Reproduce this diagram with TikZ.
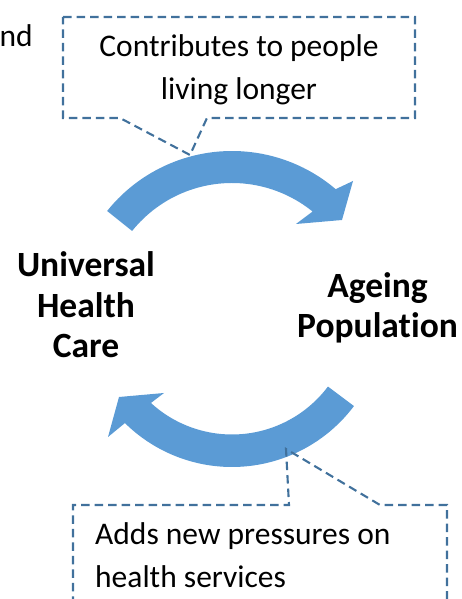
\documentclass[tikz,border=0pt]{standalone}
\usepackage{fontspec}
\setmainfont{Carlito}[Ligatures = NoCommon]
\usepackage{tikz}
\usetikzlibrary{calc}

\definecolor{arrowblue}{RGB}{91,155,213}
\definecolor{calloutline}{RGB}{65,113,156}

\tikzset{
  callout/.style = {draw = calloutline, line width = 2.1pt, dash pattern = on 8.5pt off 5pt},
  calltext/.style = {font = \fontsize{31.5}{43}\selectfont, inner sep = 0pt},
  bigbold/.style = {font = \fontsize{35.5}{40.5}\selectfont\bfseries, inner sep = 0pt, align = center}
}

\begin{document}
\begin{tikzpicture}[x = 1pt, y = 1pt]
\useasboundingbox (0, 0) rectangle (461, 599);
%\draw[very thin, color = gray](0, 0) grid[step = 50] (461, 599);
\coordinate (hubtop) at (232, 288);
\coordinate (hubbot) at (232, 284.5);

% upper arrow
\fill [arrowblue] ($(hubtop) + (141.3:160)$) arc[start angle = 141.3, end angle = 49.6, radius = 160]
  -- (353, 418) -- (342, 379) -- (296, 375)
  -- ($(hubtop) + (51:128)$) arc[start angle = 51, end angle = 141.3, radius = 128] -- cycle;

% lower arrow
\fill [arrowblue] ($(hubbot) + (-36.9:152.5)$) arc[start angle = -36.9, end angle = -134.6, radius = 152.5]
  -- (108, 162) -- (119, 202) -- (164, 206)
  -- ($(hubbot) + (-132.5:120)$) arc[start angle = -132.5, end angle = -36.9, radius = 120] -- cycle;

% callouts
\draw [callout] (63, 582) -- (415, 582) -- (415, 481) -- (207, 481) -- (190, 444)
  -- (120, 481) -- (63, 481) -- cycle;
\draw [callout] (73, -6) -- (73, 94) -- (289, 94) -- (286, 150) -- (380, 94)
  -- (447, 94) -- (447, -6);

% base anchor sits on the last line
\node (cut) at (33, 552) [calltext, anchor = base east] {nd};
\node (longer) at (239, 499) [calltext, anchor = base, align = center] {Contributes to people\\living longer};
\node (pressure) at (95, 12) [calltext, anchor = base west, align = left] {Adds new pressures on\\health services};
\node (uhc) at (86, 241) [bigbold, anchor = base] {Universal\\Health\\Care};
\node (ageing) at (377.5, 261) [bigbold, anchor = base] {Ageing\\Population};
\end{tikzpicture}
\end{document}
